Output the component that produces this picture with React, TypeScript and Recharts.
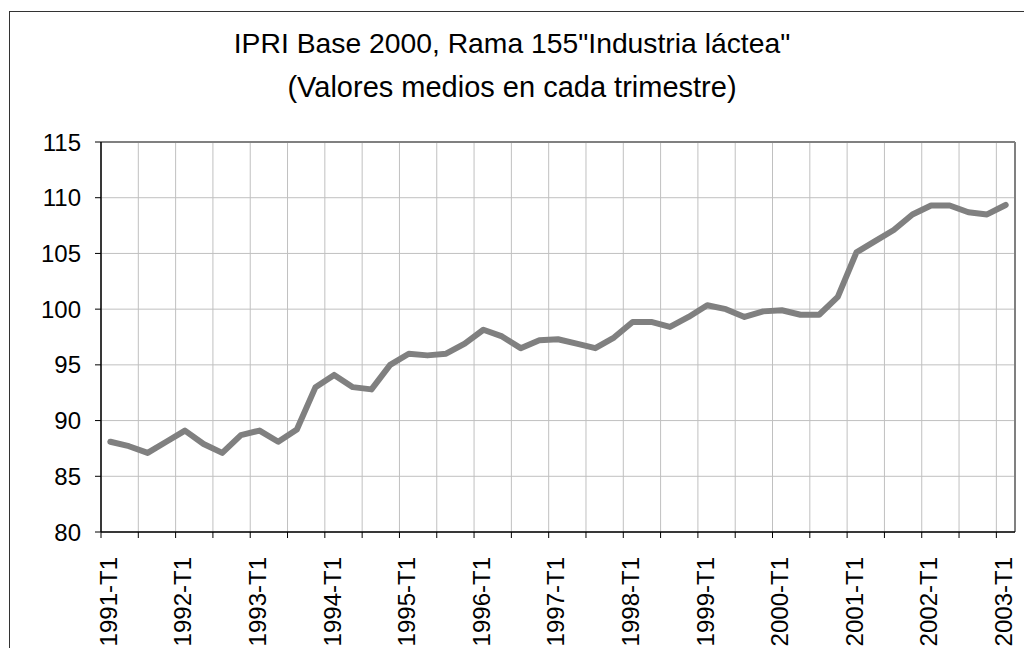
import React from 'react';
import { LineChart, Line, XAxis, YAxis, CartesianGrid, ReferenceLine } from 'recharts';

// quarterly categories 1991-T1 .. 2003-T1
const years = [1991, 1992, 1993, 1994, 1995, 1996, 1997, 1998, 1999, 2000, 2001, 2002, 2003];
const trimestres = ['T1', 'T2', 'T3', 'T4'];
const quarters: string[] = years
  .flatMap(y => trimestres.map(t => `${y}-${t}`))
  .slice(0, 49);

// IPRI values (trimestral means)
const ipri = [
  88.1, 87.7, 87.1, 88.1, 89.1, 87.9, 87.1, 88.7, 89.1, 88.1,
  89.2, 93.0, 94.1, 93.0, 92.8, 95.0, 96.0, 95.85, 96.0, 96.9,
  98.15, 97.55, 96.5, 97.2, 97.3, 96.9, 96.5, 97.45, 98.85, 98.85,
  98.4, 99.3, 100.35, 100.0, 99.3, 99.8, 99.9, 99.5, 99.5, 101.1,
  105.1, 106.1, 107.1, 108.5, 109.3, 109.3, 108.7, 108.5, 109.35,
];

const yTicks = [80, 85, 90, 95, 100, 105, 110, 115];

const data = quarters.map((q, i) => ({ idx: i, label: q, valor: ipri[i] }));

// tick marks / gridlines sit between categories, every 2 quarters
const boundaryTicks = quarters.map((_, i) => i - 0.5).filter((_, i) => i % 2 === 0);
// labels every 4 quarters, centred on the category
const labelTicks = quarters.map((_, i) => i).filter(i => i % 4 === 0);

const FONT = '"Liberation Sans", Arial, sans-serif';

function QuarterTick(props: any) {
  const { x, y, payload } = props;
  const ty = y + 16;
  return (
    <text
      x={x - 2}
      y={ty}
      transform={`rotate(-90, ${x - 2}, ${ty})`}
      textAnchor="end"
      dy="0.35em"
      fontSize={24}
      fontFamily={FONT}
      fill="#000"
    >
      {quarters[payload.value]}
    </text>
  );
}

const NoLabel = () => <g />;

export default function App() {
  return (
    <div style={{ position: 'absolute', left: 0, top: 0, width: 1024, height: 648, overflow: 'hidden', background: '#fff' }}>
      <div style={{ position: 'absolute', left: 9, top: 11, width: 1100, height: 700, border: '1.5px solid #333' }} />
      <div style={{ position: 'absolute', left: 0, top: 0, width: 1024, fontFamily: FONT, textAlign: 'center', color: '#000' }}>
        <div style={{ position: 'absolute', left: 0, width: 1024, top: 27, fontSize: 28.3, lineHeight: '32px' }}>
          IPRI Base 2000, Rama 155"Industria láctea"
        </div>
        <div style={{ position: 'absolute', left: 0, width: 1024, top: 71, fontSize: 29, lineHeight: '32px' }}>
          (Valores medios en cada trimestre)
        </div>
      </div>
      <div style={{ position: 'absolute', left: 0, top: 0 }}>
        <LineChart width={1024} height={648} data={data} margin={{ top: 142, right: 9, bottom: 0, left: 0 }}>
          <CartesianGrid stroke="#c0c0c0" strokeWidth={1} />
          <XAxis
            dataKey="idx"
            type="number"
            domain={[-0.5, 48.5]}
            ticks={boundaryTicks}
            interval={0}
            tick={NoLabel}
            tickSize={6}
            height={1}
            axisLine={{ stroke: '#000', strokeWidth: 1.5 }}
            tickLine={{ stroke: '#000', strokeWidth: 1 }}
            allowDataOverflow
          />
          <XAxis
            xAxisId="lab"
            dataKey="idx"
            type="number"
            domain={[-0.5, 48.5]}
            ticks={labelTicks}
            interval={0}
            tick={<QuarterTick />}
            axisLine={false}
            tickLine={false}
            height={115}
            allowDataOverflow
          />
          <YAxis
            domain={[80, 115]}
            ticks={yTicks}
            interval={0}
            width={101}
            tickSize={6}
            tickMargin={14}
            axisLine={{ stroke: '#000', strokeWidth: 1.5 }}
            tickLine={{ stroke: '#000', strokeWidth: 1 }}
            tick={{ fontSize: 24, fontFamily: FONT, fill: '#000' }}
            allowDataOverflow
          />
          <ReferenceLine y={115} stroke="#808080" strokeWidth={2} />
          <ReferenceLine x={48.5} stroke="#808080" strokeWidth={2} />
          <Line
            xAxisId="lab"
            dataKey="valor"
            stroke="#808080"
            strokeWidth={6}
            strokeLinejoin="round"
            strokeLinecap="round"
            dot={false}
            isAnimationActive={false}
          />
        </LineChart>
      </div>
    </div>
  );
}
